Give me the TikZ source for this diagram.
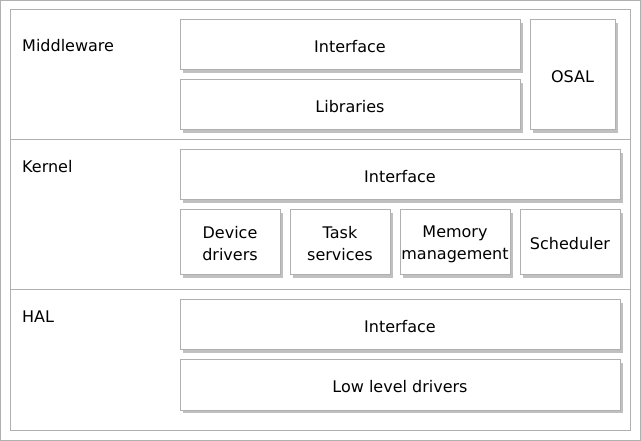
\documentclass[tikz,border=0pt]{standalone}
\usepackage{fontspec}
\setmainfont{DejaVu Sans}
\usetikzlibrary{shadows}
\definecolor{edge}{HTML}{B0B0B0}
\definecolor{shade}{HTML}{C0C0C0}
\begin{document}
\begin{tikzpicture}[x=1pt,y=-1pt,
  every node/.style={font=\fontsize{16}{22}\selectfont, text=black},
  layerbox/.style={draw=edge, line width=1pt, fill=white, inner sep=0pt, align=center,
    drop shadow={shadow xshift=3pt, shadow yshift=-3pt, fill=shade, opacity=1}},
  boxtext/.style={inner sep=0pt, align=center, yshift=-1.5pt},
  layerlabel/.style={anchor=base west, inner sep=0pt},
  frame/.style={draw=edge, line width=1pt}]
\useasboundingbox (0,0) rectangle (641,441);
\draw[frame] (0.5,0.5) rectangle (640,440);
\draw[frame] (10,10) rectangle (630,430);
\coordinate (d1l) at (10,140); \coordinate (d1r) at (630,140);
\coordinate (d2l) at (10,290); \coordinate (d2r) at (630,290);
\draw[frame] (d1l) -- (d1r);
\draw[frame] (d2l) -- (d2r);
% labels
\node[layerlabel] (lmw) at (22,52) {Middleware};
\node[layerlabel] (lk) at (22,173) {Kernel};
\node[layerlabel] (lh) at (22,323) {HAL};
% middleware
\node[layerbox, minimum width=340pt, minimum height=50pt] (mwi) at (350,45) {};
\node[layerbox, minimum width=340pt, minimum height=50pt] (lib) at (350,105) {};
\node[layerbox, minimum width=85pt, minimum height=110pt] (osal) at (572.5,75) {};
% kernel
\node[layerbox, minimum width=440pt, minimum height=50pt] (ki) at (400,175) {};
\node[layerbox, minimum width=100pt, minimum height=65pt] (dev) at (230,242.5) {};
\node[layerbox, minimum width=100pt, minimum height=65pt] (task) at (340,242.5) {};
\node[layerbox, minimum width=110pt, minimum height=65pt] (mem) at (455,242.5) {};
\node[layerbox, minimum width=100pt, minimum height=65pt] (sch) at (570,242.5) {};
% HAL
\node[layerbox, minimum width=440pt, minimum height=50pt] (hi) at (400,325) {};
\node[layerbox, minimum width=440pt, minimum height=50pt] (lld) at (400,385) {};
% texts
\node[boxtext] (tmwi) at (mwi.center) {Interface};
\node[boxtext] (tlib) at (lib.center) {Libraries};
\node[boxtext] (tosal) at (osal.center) {OSAL};
\node[boxtext] (tki) at (ki.center) {Interface};
\node[boxtext] (tdev) at (dev.center) {Device\\drivers};
\node[boxtext] (ttask) at (task.center) {Task\\services};
\node[boxtext] (tmem) at (mem.center) {Memory\\management};
\node[boxtext] (tsch) at (sch.center) {Scheduler};
\node[boxtext] (thi) at (hi.center) {Interface};
\node[boxtext] (tlld) at (lld.center) {Low level drivers};
\end{tikzpicture}
\end{document}
